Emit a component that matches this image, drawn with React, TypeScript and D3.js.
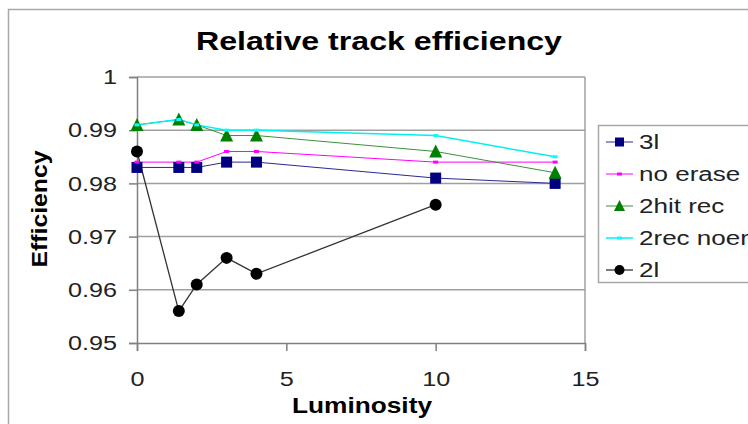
import * as d3 from "d3";
import { useEffect, useRef } from "react";

const xs = [0, 1.4, 2, 3, 4, 10, 14];
const seriesNames = ["3l", "no erase", "2hit rec", "2rec noer", "2l"];
const v3l = [0.983, 0.983, 0.983, 0.984, 0.984, 0.981, 0.98];
const vNoErase = [0.984, 0.984, 0.984, 0.986, 0.986, 0.984, 0.984];
const v2hitRec = [0.991, 0.992, 0.991, 0.989, 0.989, 0.986, 0.982];
const v2recNoer = [0.991, 0.992, 0.991, 0.990, 0.990, 0.989, 0.985];
const x2l = [0, 1.4, 2, 3, 4, 10];
const v2l = [0.986, 0.956, 0.961, 0.966, 0.963, 0.976];
const xTicks = [0, 5, 10, 15];
const yTicks = [0.95, 0.96, 0.97, 0.98, 0.99, 1];

type Style = { color: string; line: string; width: number; marker: string };
const styles: Style[] = [
  { color: "#000080", line: "#2a2a90", width: 1, marker: "square" },
  { color: "#ff00ff", line: "#ff00ff", width: 1, marker: "dash" },
  { color: "#008000", line: "#3a913a", width: 1, marker: "triangle" },
  { color: "#00ffff", line: "#00f0f0", width: 1.5, marker: "dash" },
  { color: "#000000", line: "#333333", width: 1.3, marker: "circle" },
];

const FONT = "'Liberation Sans', Arial, sans-serif";
const SX = 1.2;

export default function App() {
  const svgRef = useRef<SVGSVGElement | null>(null);

  useEffect(() => {
    if (!svgRef.current) return;
    const svg = d3.select(svgRef.current);
    svg.selectAll("*").remove();

    const x = d3.scaleLinear().domain([0, 15]).range([137, 585]);
    const y = d3.scaleLinear().domain([0.95, 1]).range([343, 77]);

    svg.append("rect").attr("x", 0).attr("y", 0).attr("width", 748).attr("height", 424).attr("fill", "#fff");
    svg
      .append("rect")
      .attr("x", 8.5)
      .attr("y", 9.5)
      .attr("width", 900)
      .attr("height", 600)
      .attr("fill", "#fff")
      .attr("stroke", "#a8a8a8")
      .attr("stroke-width", 1.5);

    // gridlines
    svg
      .append("g")
      .selectAll("line")
      .data(yTicks.slice(1))
      .join("line")
      .attr("x1", x(0))
      .attr("x2", x(15))
      .attr("y1", (d) => y(d))
      .attr("y2", (d) => y(d))
      .attr("stroke", "#a0a0a0")
      .attr("stroke-width", 1.5);
    svg
      .append("line")
      .attr("x1", x(15))
      .attr("x2", x(15))
      .attr("y1", y(1))
      .attr("y2", y(0.95))
      .attr("stroke", "#a0a0a0")
      .attr("stroke-width", 1.5);

    const yAxis = d3.axisLeft(y).tickValues(yTicks).tickSize(8).tickPadding(12).tickFormat((d) => String(d));
    const xAxis = d3.axisBottom(x).tickValues(xTicks).tickSize(8).tickPadding(12).tickFormat((d) => String(d));

    const yg = svg.append("g").attr("transform", `translate(${x(0)},0)`).call(yAxis as any);
    const xg = svg.append("g").attr("transform", `translate(0,${y(0.95)})`).call(xAxis as any);
    [yg, xg].forEach((g) => {
      g.select(".domain").attr("stroke", "#808080").attr("stroke-width", 1.5);
      g.selectAll(".tick line").attr("stroke", "#808080").attr("stroke-width", 1.5);
      g.selectAll("text")
        .attr("font-family", FONT)
        .attr("font-size", 21)
        .attr("fill", "#222");
    });
    yg.selectAll("text").attr("x", -20 / SX).attr("transform", `scale(${SX},1)`);
    xg.selectAll("text")
      .attr("y", 36)
      .attr("dy", null)
      .attr("dominant-baseline", "central")
      .attr("transform", `scale(${SX},1)`);

    const all = [v3l, vNoErase, v2hitRec, v2recNoer, v2l];
    const line = d3
      .line<[number, number]>()
      .x((d) => x(d[0]))
      .y((d) => y(d[1]));

    const pts = all.map((vals, i) =>
      (i === 4 ? x2l : xs).map((xv, j) => [xv, vals[j]] as [number, number])
    );

    pts.forEach((p, i) => {
      svg
        .append("path")
        .attr("d", line(p) as string)
        .attr("fill", "none")
        .attr("stroke", styles[i].line)
        .attr("stroke-width", styles[i].width);
    });

    const drawMarker = (g: any, kind: string, color: string, cx: number, cy: number, small = false) => {
      if (kind === "square") {
        const s = small ? 9 : 11;
        g.append("rect").attr("x", cx - s / 2).attr("y", cy - s / 2).attr("width", s).attr("height", s).attr("fill", color);
      } else if (kind === "triangle") {
        const s = small ? 10 : 12;
        g.append("path")
          .attr("d", `M${cx},${cy - s / 2 - 1}L${cx + s / 2 + 0.5},${cy + s / 2}L${cx - s / 2 - 0.5},${cy + s / 2}Z`)
          .attr("fill", color);
      } else if (kind === "circle") {
        g.append("circle").attr("cx", cx).attr("cy", cy).attr("r", small ? 5 : 6).attr("fill", color);
      } else {
        g.append("rect").attr("x", cx - 2.5).attr("y", cy - 1.5).attr("width", 5).attr("height", 3).attr("fill", color);
      }
    };

    pts.forEach((p, i) => {
      const g = svg.append("g");
      p.forEach((d) => drawMarker(g, styles[i].marker, styles[i].color, x(d[0]), y(d[1])));
    });

    // title
    svg
      .append("text")
      .attr("x", 379)
      .attr("y", 50)
      .attr("text-anchor", "middle")
      .attr("font-family", FONT)
      .attr("font-weight", "bold")
      .attr("font-size", 26)
      .attr("textLength", 366)
      .attr("lengthAdjust", "spacingAndGlyphs")
      .text("Relative track efficiency");

    svg
      .append("text")
      .attr("x", 362)
      .attr("y", 413)
      .attr("text-anchor", "middle")
      .attr("font-family", FONT)
      .attr("font-weight", "bold")
      .attr("font-size", 22)
      .attr("textLength", 140)
      .attr("lengthAdjust", "spacingAndGlyphs")
      .text("Luminosity");

    svg
      .append("text")
      .attr("transform", `translate(47,209) rotate(-90)`)
      .attr("text-anchor", "middle")
      .attr("font-family", FONT)
      .attr("font-weight", "bold")
      .attr("font-size", 22)
      .attr("textLength", 117)
      .attr("lengthAdjust", "spacingAndGlyphs")
      .text("Efficiency");

    // legend
    const lg = svg.append("g");
    lg.append("rect")
      .attr("x", 598.5)
      .attr("y", 125.5)
      .attr("width", 200)
      .attr("height", 157)
      .attr("fill", "#fff")
      .attr("stroke", "#a8a8a8")
      .attr("stroke-width", 1.5);
    seriesNames.forEach((name, i) => {
      const cy = 142 + i * 32;
      lg.append("line")
        .attr("x1", 606)
        .attr("x2", 633)
        .attr("y1", cy)
        .attr("y2", cy)
        .attr("stroke", styles[i].line)
        .attr("stroke-width", styles[i].width);
      drawMarker(lg, styles[i].marker, styles[i].color, 619.5, cy, true);
      lg.append("text")
        .attr("transform", `translate(639,${cy}) scale(1.24,1)`)
        .attr("dominant-baseline", "central")
        .attr("font-family", FONT)
        .attr("font-size", 21)
        .attr("fill", "#222")
        .text(name);
    });
  }, []);

  return (
    <svg
      ref={svgRef}
      width={748}
      height={424}
      style={{ position: "absolute", left: 0, top: 0, display: "block" }}
    />
  );
}
